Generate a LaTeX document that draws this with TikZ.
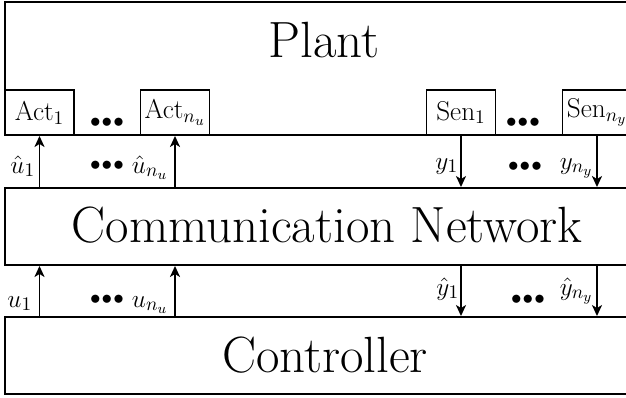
\documentclass[tikz,border=0pt]{standalone}
\usepackage{amsmath}
\usepackage{tikz}
\usetikzlibrary{arrows.meta,fit}
\tikzset{
  every picture/.style={line width=1.1pt},
  block/.style={draw, inner sep=0pt},
  title/.style={inner sep=0pt, anchor=base, font=\fontsize{29}{33}\selectfont},
  dev/.style={draw, minimum width=1.38cm, minimum height=0.9cm, inner sep=0pt, font=\fontsize{15.5}{18}\selectfont},
  sig/.style={-{Stealth[length=2.2mm, width=2mm, inset=0.6mm]}},
  lbl/.style={font=\fontsize{15.5}{18}\selectfont, inner sep=0pt, anchor=base east},
  dots/.style={font=\fontsize{12.8}{15}\selectfont, inner sep=0pt},
}
\newcommand{\dotrow}{$\bullet\mkern-3mu\bullet\mkern-3mu\bullet$}

\begin{document}
\begin{tikzpicture}[x=0.02cm, y=0.02cm]
  \useasboundingbox (0,0) rectangle (626,397);
  \clip (0,0) rectangle (626,397);
  % the three layers
  \node[block, fit={(5,262) (650,395)}] (plant) {};
  \node[block, fit={(5,132) (650,209)}] (net) {};
  \node[block, fit={(5,3) (650,80)}] (ctrl) {};
  \node[title] (plantname) at (324,340) {Plant};
  \node[title] (netname) at (327,155) {Communication Network};
  \node[title] (ctrlname) at (325,25) {Controller};

  % actuators and sensors on the plant
  \node[dev] (act1) at (39.5,284.5) {Act$_1$};
  \node[dev] (actn) at (175,284.5) {Act$_{n_u}$};
  \node[dev] (sen1) at (461,284.5) {Sen$_1$};
  \node[dev] (senn) at (597,284.5) {Sen$_{n_y}$};
  \node[dots] (actdots) at (107,274) {\dotrow};
  \node[dots] (sendots) at (523,274) {\dotrow};

  % network <-> plant
  \draw[sig] (act1.south |- net.north) -- (act1.south);
  \draw[sig] (actn.south |- net.north) -- (actn.south);
  \draw[sig] (sen1.south) -- (sen1.south |- net.north);
  \draw[sig] (senn.south) -- (senn.south |- net.north);
  \node[lbl] (uh1) at (36,224) {$\hat{u}_1$};
  \node[lbl] (uhn) at (169,224) {$\hat{u}_{n_u}$};
  \node[lbl] (y1) at (459,228) {$y_1$};
  \node[lbl] (yn) at (594,228) {$y_{n_y}$};
  \node[dots] (uhdots) at (107,231) {\dotrow};
  \node[dots] (ydots) at (525,230) {\dotrow};

  % controller <-> network
  \draw[sig] (act1.south |- ctrl.north) -- (act1.south |- net.south);
  \draw[sig] (actn.south |- ctrl.north) -- (actn.south |- net.south);
  \draw[sig] (sen1.south |- net.south) -- (sen1.south |- ctrl.north);
  \draw[sig] (senn.south |- net.south) -- (senn.south |- ctrl.north);
  \node[lbl] (u1) at (33,90) {$u_1$};
  \node[lbl] (un) at (169,90) {$u_{n_u}$};
  \node[lbl] (yh1) at (460,102) {$\hat{y}_1$};
  \node[lbl] (yhn) at (594,102) {$\hat{y}_{n_y}$};
  \node[dots] (udots) at (107,97) {\dotrow};
  \node[dots] (yhdots) at (528,97) {\dotrow};
\end{tikzpicture}
\end{document}
